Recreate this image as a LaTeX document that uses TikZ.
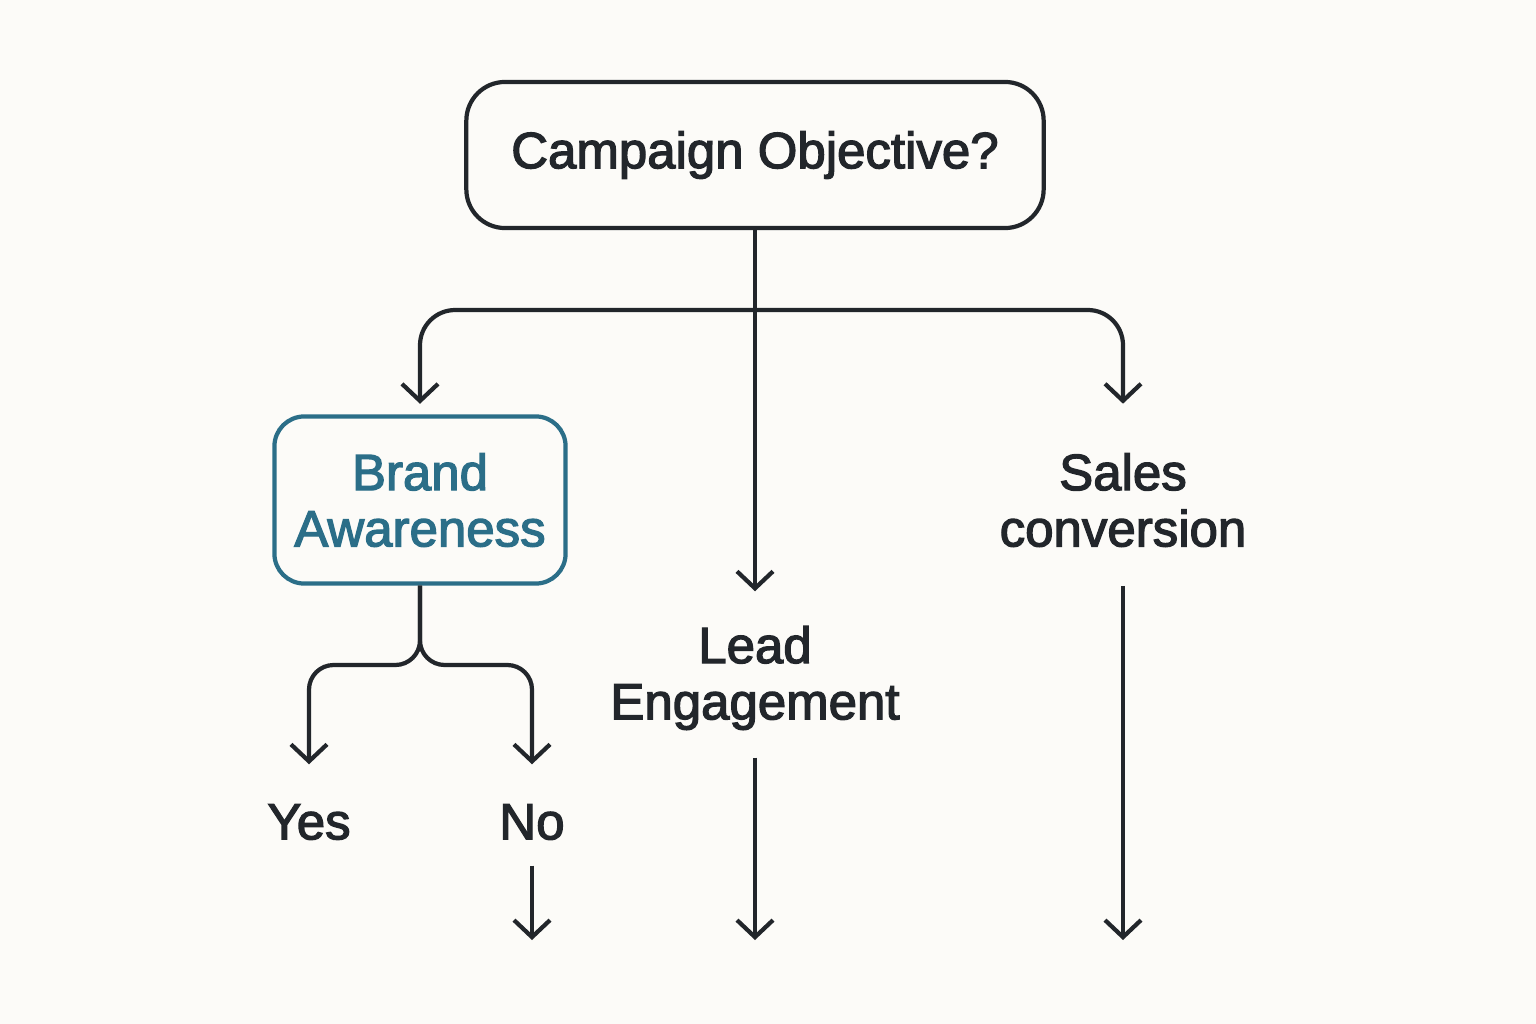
\documentclass[tikz,border=0pt]{standalone}
\usepackage{fontspec}
\usepackage{xcolor}
\usepackage{tikz}
\usetikzlibrary{arrows.meta}

\newfontfamily\diagfont{Liberation Sans}[FakeBold=2.5]
\definecolor{ink}{HTML}{22262B}
\definecolor{brandteal}{HTML}{2B6E88}
\definecolor{paper}{HTML}{FCFBF8}

\tikzset{
  decision/.style={draw=ink, line width=1.2pt, rounded corners=11pt,
    minimum width=5.77cm, minimum height=1.46cm, text=ink},
  choice/.style={draw=brandteal, line width=1.2pt, rounded corners=8.5pt,
    minimum width=2.91cm, minimum height=1.67cm, text=brandteal, align=center},
  outcome/.style={text=ink, align=center},
  flow/.style={draw=ink, line width=1.2pt,
    -{Straight Barb[length=1.7mm,width=3.6mm]}},
}

\begin{document}
\begin{tikzpicture}[x=0.01cm,y=-0.01cm,
    every node/.style={font=\diagfont\fontsize{14.5}{16}\selectfont}]
  \fill[paper] (0,0) rectangle (1536,1024);

  \draw (755,155)  node (obj)   [decision] {Campaign Objective?};
  \draw (420,500)  node (brand) [choice]   {Brand\\Awareness};
  \draw (755,678)  node (lead)  [outcome, minimum height=1.72cm] {Lead\\Engagement};
  \draw (1123,500) node (sales) [outcome, minimum height=1.70cm] {Sales\\conversion};
  \draw (309,822)  node (yes)   [outcome, minimum height=1.14cm] {Yes};
  \draw (532,822)  node (no)    [outcome, minimum height=1.14cm] {No};

  \coordinate (split)    at (755,310);
  \coordinate (fork)     at (420,665);
  \coordinate (noend)    at (532,940);
  \coordinate (leadend)  at (755,940);
  \coordinate (salesend) at (1123,940);

  % top level
  \draw[flow] (obj.south) -- (lead.north);
  \draw[flow, rounded corners=10pt, shorten >=3pt] (split) -| (brand.north);
  \draw[flow, rounded corners=10pt, shorten >=3pt] (split) -| (sales.north);

  % brand awareness
  \draw[flow, rounded corners=7pt] (brand.south) -- (fork) -| (yes.north);
  \draw[flow, rounded corners=7pt] (brand.south) -- (fork) -| (no.north);

  \draw[flow, shorten <=-4pt] (no.south) -- (noend);
  \draw[flow, shorten <=-2pt] (lead.south) -- (leadend);
  \draw[flow] (sales.south) -- (salesend);
\end{tikzpicture}
\end{document}
